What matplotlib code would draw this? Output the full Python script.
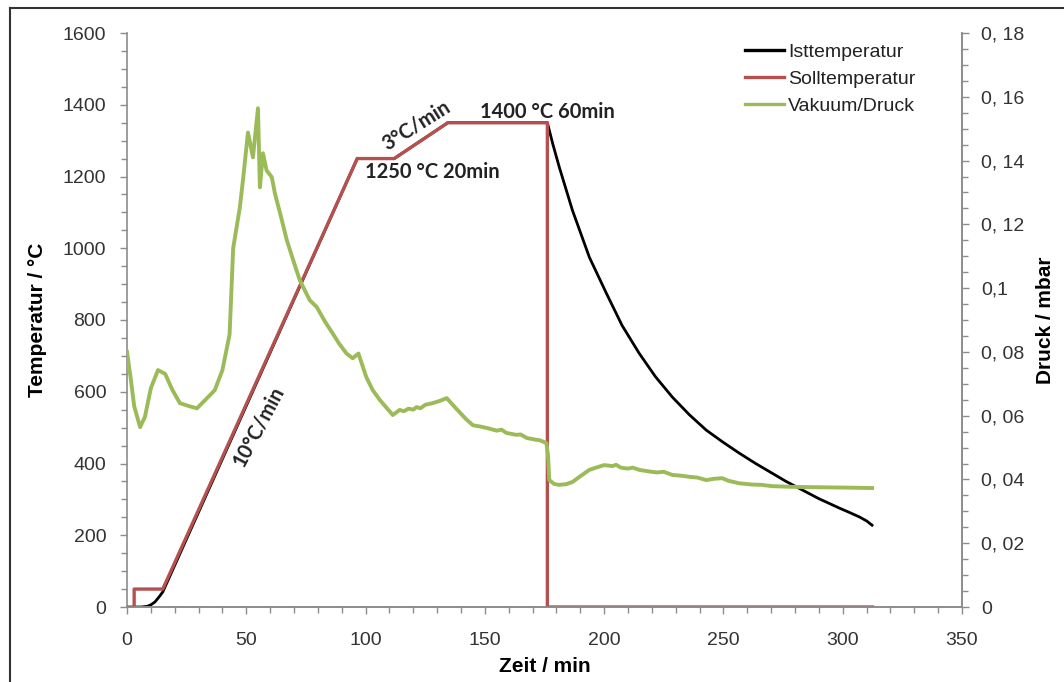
import matplotlib
matplotlib.use("Agg")
import matplotlib.pyplot as plt
from matplotlib import font_manager
from matplotlib.ticker import MultipleLocator, FuncFormatter
from matplotlib.lines import Line2D

# --- data ---
# Solltemperatur (set point), °C over min
soll_t = [0, 3, 3, 15, 96.5, 112, 134.5, 176.2, 176.2, 312.5]
soll_T = [0, 0, 50, 50, 1250, 1250, 1350, 1350, 0, 0]

# Isttemperatur (actual), °C over min
ist_t = [3, 6, 8.5, 10, 11.7, 13.2, 15, 96.5, 112, 134.5, 176.2, 178.5, 181.2, 186.7,
         193.8, 200.9, 207.5, 214.7, 221.5, 228.6, 235.7, 242.8, 249.7, 256.6, 263.5,
         270.4, 276, 281.7, 290, 298.5, 303, 307, 310, 312.3]
ist_T = [0, 0, 2, 6, 14, 26, 42, 1250, 1250, 1350, 1350, 1290, 1226, 1106,
         975, 875, 785, 707, 642, 585, 536, 493, 460, 429, 400,
         373, 351, 331, 302, 276, 263, 251, 240, 228]

# Vakuum / Druck, mbar over min
druck_t = [0, 1.5, 3, 5.5, 7.5, 10, 13, 16, 19, 22.2, 26, 29.3, 32.5, 36.8, 40, 43,
           44.5, 47.3, 48.6, 50.7, 52.8, 53.5, 54.9, 55.7, 57, 58.5, 60.7, 62, 64.5,
           67, 70, 72.4, 76.6, 79.5, 83, 86.2, 89, 92, 94.6, 97, 100.3, 103, 106,
           111.4, 114.3, 116, 118, 120, 121.4, 123, 125, 128, 131, 134, 138.5, 142, 145,
           148, 151, 155, 157, 159, 163, 165, 167.6, 171, 173, 175.8, 176.5, 177, 179,
           181, 184, 186.7, 190, 193.8, 197, 200, 203.5, 205, 207, 210, 212, 214.7, 218,
           222, 225, 228.6, 232, 236, 239, 242.8, 246, 249.5, 252, 256.6, 262, 266,
           270.4, 278, 285, 295, 305, 312.3]
druck_p = [0.0800, 0.0720, 0.0630, 0.0564, 0.0596, 0.0686, 0.0743, 0.0731, 0.0681, 0.0639,
           0.0630, 0.0623, 0.0647, 0.0680, 0.0743, 0.0855,
           0.1125, 0.1253, 0.1338, 0.1488, 0.1410, 0.1463, 0.1564, 0.1316, 0.1423, 0.1369,
           0.1348, 0.1297, 0.1225,
           0.1150, 0.1080, 0.1025, 0.0962, 0.0941, 0.0895, 0.0858, 0.0825, 0.0795, 0.0780,
           0.0795, 0.0721, 0.0680, 0.0649,
           0.0602, 0.0618, 0.0614, 0.0622, 0.0619, 0.0627, 0.0623, 0.0634, 0.0639, 0.0646,
           0.0655, 0.0618, 0.0590, 0.0570,
           0.0566, 0.0561, 0.0553, 0.0556, 0.0546, 0.0540, 0.0541, 0.0530, 0.0525, 0.0523,
           0.0514, 0.0473, 0.0398, 0.0386,
           0.0383, 0.0385, 0.0392, 0.0410, 0.0430, 0.0438, 0.0445, 0.0442, 0.0446, 0.0437,
           0.0434, 0.0437, 0.0430, 0.0426,
           0.0422, 0.0424, 0.0414, 0.0412, 0.0408, 0.0406, 0.0398, 0.0402, 0.0404, 0.0396,
           0.0388, 0.0384, 0.0383,
           0.0379, 0.0377, 0.0376, 0.0375, 0.0374, 0.0373]

names = {f.name for f in font_manager.fontManager.ttflist}
narrow = "Liberation Sans Narrow" if "Liberation Sans Narrow" in names else "Liberation Sans"
plt.rcParams["font.family"] = ["Liberation Sans", "DejaVu Sans"]

fig = plt.figure(figsize=(10.64, 6.82), dpi=100)
ax = fig.add_axes([127 / 1064, 1 - 607 / 682, 835 / 1064, 574 / 682])
ax2 = ax.twinx()

red = "#B5504F"
green = "#9BBB59"
grey = "#8C8C8C"

ax.plot(ist_t, ist_T, color="black", lw=2.0, zorder=2)
ax.plot(soll_t, soll_T, color=red, lw=2.4, zorder=3)
ax2.plot(druck_t, druck_p, color=green, lw=2.8, zorder=4)

ax.set_xlim(0, 350)
ax.set_ylim(0, 1600)
ax2.set_ylim(0, 0.18)

ax.xaxis.set_major_locator(MultipleLocator(50))
ax.xaxis.set_minor_locator(MultipleLocator(10))
ax.yaxis.set_major_locator(MultipleLocator(200))
ax.yaxis.set_minor_locator(MultipleLocator(50))
ax2.yaxis.set_major_locator(MultipleLocator(0.02))
ax2.yaxis.set_minor_locator(MultipleLocator(0.005))


def komma(v, pos):
    if abs(v) < 1e-9:
        return "0"
    s = ("%.2f" % v).rstrip("0")
    return s.replace(".", ", ") if len(s) > 3 else s.replace(".", ",")


ax2.yaxis.set_major_formatter(FuncFormatter(komma))

for a in (ax, ax2):
    a.spines["top"].set_visible(False)
    for side in ("left", "right", "bottom"):
        a.spines[side].set_color(grey)
        a.spines[side].set_linewidth(1.2)
    a.tick_params(which="both", direction="out", color=grey, width=1)
    a.tick_params(which="major", length=5)
    a.tick_params(which="minor", length=4)
ax2.spines["left"].set_visible(False)
ax.tick_params(axis="y", labelsize=14, labelcolor="#333333", pad=10)
ax2.tick_params(axis="y", labelsize=14, labelcolor="#333333", pad=9)
ax.tick_params(axis="x", labelsize=14, labelcolor="#333333", pad=13)
for lab in ax.get_xticklabels():
    lab.set_family(narrow)

ax.set_xlabel("Zeit / min", fontsize=15, fontweight="bold", family=narrow, labelpad=6)
ax.set_ylabel("Temperatur / °C", fontsize=15, fontweight="bold", family=narrow, labelpad=11)
ax2.set_ylabel("Druck / mbar", fontsize=15, fontweight="bold", family=narrow, labelpad=8)

# annotations
anno = dict(fontsize=14.5, fontweight="bold", family=["Lato", "DejaVu Sans"], color="#222222")
ax.text(55, 505, "10°C/min", rotation=62, ha="center", va="center",
        rotation_mode="anchor", **anno)
ax.text(121.4, 1342, "3°C/min", rotation=32, ha="center", va="center",
        rotation_mode="anchor", **anno)
ax.text(99.6, 1212, "1250 °C 20min", ha="left", va="center", **anno)
ax.text(147.8, 1379, "1400 °C 60min", ha="left", va="center", **anno)

handles = [Line2D([], [], color="black", lw=2.4),
           Line2D([], [], color=red, lw=2.4),
           Line2D([], [], color=green, lw=2.4)]
leg = ax2.legend(handles, ["Isttemperatur", "Solltemperatur", "Vakuum/Druck"],
                 loc="upper left", bbox_to_anchor=(745 / 1064, 1 - 43 / 682),
                 bbox_transform=fig.transFigure, frameon=False, fontsize=14,
                 handlelength=2.0, handletextpad=0.2, labelspacing=0.5,
                 borderaxespad=0, borderpad=0)
for t in leg.get_texts():
    t.set_family(narrow)
    t.set_color("#222222")

# outer frame of the picture
fig.add_artist(Line2D([10 / 1064, 10 / 1064], [0, 1 - 8 / 682], transform=fig.transFigure,
                      color="#333333", lw=1.5))
fig.add_artist(Line2D([10 / 1064, 1], [1 - 8 / 682, 1 - 8 / 682], transform=fig.transFigure,
                      color="#333333", lw=1.5))

fig.savefig("out.png", dpi=100)
